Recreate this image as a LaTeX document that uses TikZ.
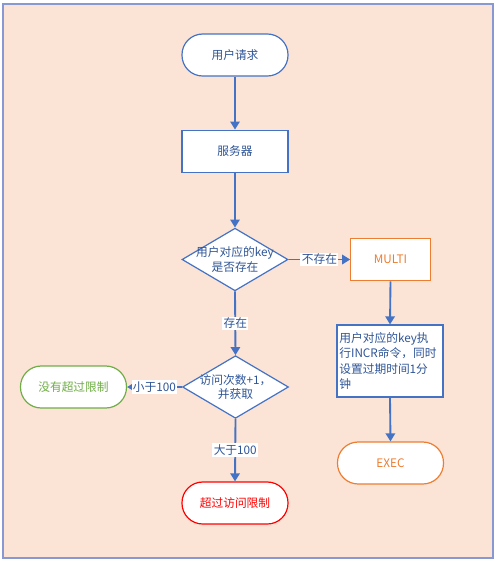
\documentclass[tikz,border=0pt]{standalone}
\usepackage{fontspec}
\setmainfont{Noto Sans CJK SC}
\usetikzlibrary{shapes.geometric,arrows.meta}
\definecolor{bgpeach}{RGB}{251,228,214}
\definecolor{framec}{RGB}{135,152,210}
\definecolor{lineblue}{RGB}{68,114,196}
\definecolor{txtblue}{RGB}{47,85,151}
\definecolor{orng}{RGB}{237,125,49}
\definecolor{grn}{RGB}{112,173,71}
\definecolor{rd}{RGB}{255,0,0}
\tikzset{
  base/.style={fill=white, line width=0.9pt, font=\fontsize{8.8}{11}\selectfont, inner sep=0pt},
  term/.style={base, rectangle, rounded corners=15.5pt, minimum width=79.5pt, minimum height=31.5pt},
  procbox/.style={base, rectangle, minimum width=79.5pt, minimum height=32pt},
  decis/.style={base, diamond, minimum width=79.5pt, minimum height=47pt},
  flow/.style={draw=lineblue, line width=1.4pt, -{Triangle[width=7pt,length=6pt]}},
  elab/.style={fill=white, text=txtblue, inner sep=1pt, font=\fontsize{8.8}{11}\selectfont},
}
\begin{document}
\begin{tikzpicture}[x=0.75pt,y=-0.75pt]
\useasboundingbox (0,0) rectangle (500,565);
\fill[white] (0,0) rectangle (500,565);
\draw[fill=bgpeach, draw=framec, line width=1.2pt] (3,4) rectangle (493,558);

\node[term, draw=lineblue, text=txtblue] (req) at (235,55) {用户请求};
\node[procbox, draw=lineblue, text=txtblue] (srv) at (235,151.5) {服务器};
\node[decis, draw=lineblue] (d1) at (235,259.5) {};
\node[text=txtblue, font=\fontsize{8.8}{11}\selectfont, align=center, inner sep=0pt] (d1t) at (235,259.5) {用户对应的key\\是否存在};
\node[procbox, draw=orng, text=orng, minimum width=59.5pt] (multi) at (390.5,259.5) {MULTI};
\node[decis, draw=lineblue] (d2) at (235.5,387) {};
\node[text=txtblue, font=\fontsize{8.8}{11}\selectfont, align=center, inner sep=0pt] (d2t) at (235.5,387) {访问次数+1，\\并获取};
\node[term, draw=grn, text=grn] (ok) at (73.5,387) {没有超过限制};
\node[term, draw=rd, text=rd] (over) at (235,503) {超过访问限制};
\node[base, rectangle, draw=lineblue, text=txtblue, minimum width=79.5pt, minimum height=54pt, align=left, text width=76pt, inner sep=1.5pt, font=\fontsize{8.8}{11.6}\selectfont] (incr) at (390,361) {用户对应的key执\\行INCR命令，同时\\设置过期时间1分\\钟};
\node[term, draw=orng, text=orng] (exec) at (390.5,463) {EXEC};

\draw[flow] (req) -- (srv);
\draw[flow] (srv) -- (d1);
\draw[flow] (d1.east) -- node[elab]{不存在} (multi.west);
\draw[flow] (d1.south) -- node[elab]{存在} (d2.north);
\draw[flow] (d2.west) -- node[elab]{小于100} (ok.east);
\draw[flow] (d2.south) -- node[elab]{大于100} (over.north);
\draw[flow] (multi.south) -- (incr.north);
\draw[flow] (incr.south) -- (exec.north);
\end{tikzpicture}
\end{document}
